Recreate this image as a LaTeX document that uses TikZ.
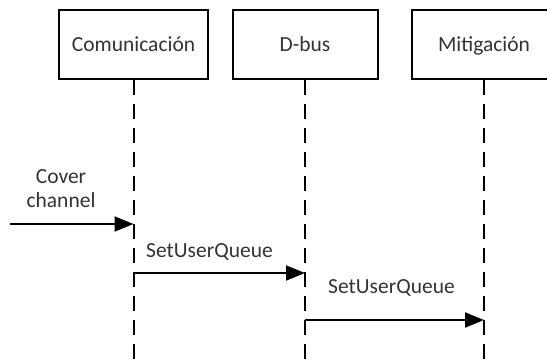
\documentclass[tikz,border=0pt]{standalone}
\usepackage{fontspec}
\setmainfont{Carlito}
\usetikzlibrary{arrows.meta}

\tikzset{
  lbl/.style={font=\fontsize{21.5}{23.5}\selectfont, text=black!80},
  actor/.style={lbl, draw=black, line width=2pt, minimum height=69pt,
    text height=14pt, text depth=0pt, inner sep=0pt},
  lifeline/.style={draw=black, line width=2pt, dash pattern=on 15pt off 9pt},
  msg/.style={draw=black, line width=2pt,
    -{Triangle[length=19pt,width=15pt]}},
}

\begin{document}
\begin{tikzpicture}[x=1pt, y=-1pt]
  \clip (0,0) rectangle (547,360);

  % participants
  \node[actor, minimum width=149pt] (com) at (133.5,44.2) {Comunicación};
  \node[actor, minimum width=145pt] (dbus) at (305,44.2) {D-bus};
  \node[actor, minimum width=144pt] (mit) at (484,44.2) {Mitigación};

  % lifeline ends at the bottom edge
  \coordinate (comEnd) at (com.south |- 0,362);
  \coordinate (dbusEnd) at (dbus.south |- 0,362);
  \coordinate (mitEnd) at (mit.south |- 0,362);

  \draw[lifeline] (com.south) -- (comEnd);
  \draw[lifeline] (dbus.south) -- (dbusEnd);
  \draw[lifeline] (mit.south) -- (mitEnd);

  % messages
  \coordinate (src) at (10,224);
  \coordinate (m1) at (com.south |- 0,224);
  \coordinate (m2a) at (com.south |- 0,273);
  \coordinate (m2b) at (dbus.south |- 0,273);
  \coordinate (m3a) at (dbus.south |- 0,320);
  \coordinate (m3b) at (mit.south |- 0,320);

  \draw[msg] (src) -- (m1);
  \draw[msg] (m2a) -- (m2b);
  \draw[msg] (m3a) -- (m3b);

  % message labels
  \node[lbl, align=center, anchor=base] (cover) at (61,207) {Cover\\channel};
  \node[lbl, anchor=base] (q1) at (209.5,257) {SetUserQueue};
  \node[lbl, anchor=base] (q2) at (391.5,293) {SetUserQueue};
\end{tikzpicture}
\end{document}
